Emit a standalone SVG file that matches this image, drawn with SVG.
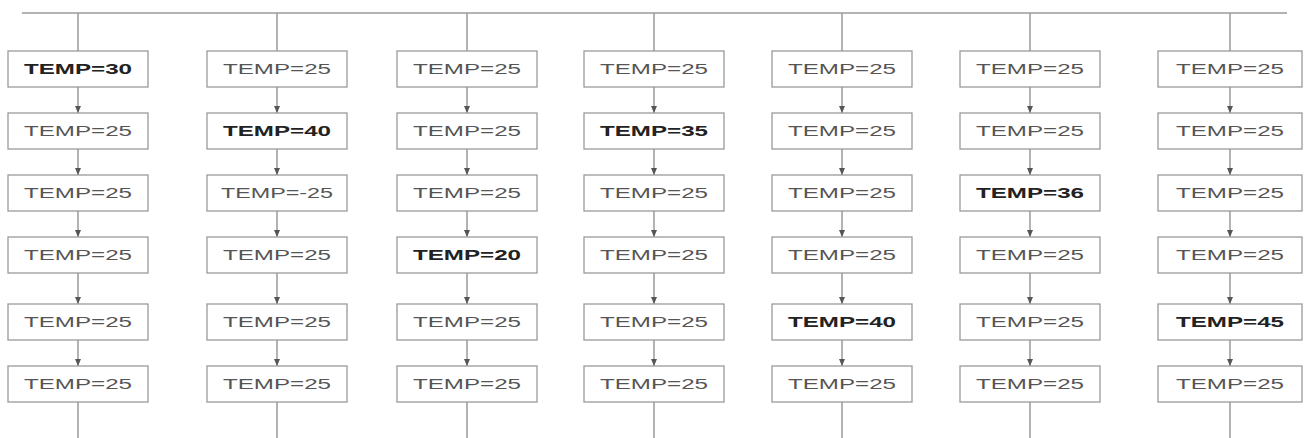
<svg xmlns="http://www.w3.org/2000/svg" width="1313" height="438" viewBox="0 0 1313 438">
<style>
.box{fill:#fff;stroke:#9a9a9a;stroke-width:1.3}
.t{font-family:"Liberation Sans",Arial,sans-serif;font-size:14px;fill:#555;text-anchor:middle}
.b{font-weight:bold;fill:#222}
.ln{stroke:#9a9a9a;stroke-width:1.5;fill:none}
</style>
<defs>
<marker id="ah" markerWidth="8" markerHeight="6" refX="7" refY="3" orient="auto" markerUnits="userSpaceOnUse">
<path d="M0,0 L7,3 L0,6 Z" fill="#555"/>
</marker>
</defs>
<g id="connectors">
<path class="ln" d="M22,13 H1287"/>
<path class="ln" d="M78,13 V51 M277,13 V51 M467,13 V51 M654,13 V51 M842,13 V51 M1030,13 V51 M1230,13 V51"/>
<path class="ln" d="M78,402 V438 M277,402 V438 M467,402 V438 M654,402 V438 M842,402 V438 M1030,402 V438 M1230,402 V438"/>
<g marker-end="url(#ah)" class="ln">
<path d="M78,87 V113"/><path d="M78,149 V175"/><path d="M78,211 V237"/><path d="M78,273 V304"/><path d="M78,340 V366"/>
<path d="M277,87 V113"/><path d="M277,149 V175"/><path d="M277,211 V237"/><path d="M277,273 V304"/><path d="M277,340 V366"/>
<path d="M467,87 V113"/><path d="M467,149 V175"/><path d="M467,211 V237"/><path d="M467,273 V304"/><path d="M467,340 V366"/>
<path d="M654,87 V113"/><path d="M654,149 V175"/><path d="M654,211 V237"/><path d="M654,273 V304"/><path d="M654,340 V366"/>
<path d="M842,87 V113"/><path d="M842,149 V175"/><path d="M842,211 V237"/><path d="M842,273 V304"/><path d="M842,340 V366"/>
<path d="M1030,87 V113"/><path d="M1030,149 V175"/><path d="M1030,211 V237"/><path d="M1030,273 V304"/><path d="M1030,340 V366"/>
<path d="M1230,87 V113"/><path d="M1230,149 V175"/><path d="M1230,211 V237"/><path d="M1230,273 V304"/><path d="M1230,340 V366"/>
</g>
</g>
<!-- column 1 -->
<g id="c1r1"><rect class="box" x="8" y="51" width="140" height="36"/><text class="t b" x="78" y="74" textLength="108" lengthAdjust="spacingAndGlyphs">TEMP=30</text></g>
<g id="c1r2"><rect class="box" x="8" y="113" width="140" height="36"/><text class="t" x="78" y="136" textLength="108" lengthAdjust="spacingAndGlyphs">TEMP=25</text></g>
<g id="c1r3"><rect class="box" x="8" y="175" width="140" height="36"/><text class="t" x="78" y="198" textLength="108" lengthAdjust="spacingAndGlyphs">TEMP=25</text></g>
<g id="c1r4"><rect class="box" x="8" y="237" width="140" height="36"/><text class="t" x="78" y="260" textLength="108" lengthAdjust="spacingAndGlyphs">TEMP=25</text></g>
<g id="c1r5"><rect class="box" x="8" y="304" width="140" height="36"/><text class="t" x="78" y="327" textLength="108" lengthAdjust="spacingAndGlyphs">TEMP=25</text></g>
<g id="c1r6"><rect class="box" x="8" y="366" width="140" height="36"/><text class="t" x="78" y="389" textLength="108" lengthAdjust="spacingAndGlyphs">TEMP=25</text></g>
<!-- column 2 -->
<g id="c2r1"><rect class="box" x="207" y="51" width="140" height="36"/><text class="t" x="277" y="74" textLength="108" lengthAdjust="spacingAndGlyphs">TEMP=25</text></g>
<g id="c2r2"><rect class="box" x="207" y="113" width="140" height="36"/><text class="t b" x="277" y="136" textLength="108" lengthAdjust="spacingAndGlyphs">TEMP=40</text></g>
<g id="c2r3"><rect class="box" x="207" y="175" width="140" height="36"/><text class="t" x="277" y="198" textLength="112" lengthAdjust="spacingAndGlyphs">TEMP=-25</text></g>
<g id="c2r4"><rect class="box" x="207" y="237" width="140" height="36"/><text class="t" x="277" y="260" textLength="108" lengthAdjust="spacingAndGlyphs">TEMP=25</text></g>
<g id="c2r5"><rect class="box" x="207" y="304" width="140" height="36"/><text class="t" x="277" y="327" textLength="108" lengthAdjust="spacingAndGlyphs">TEMP=25</text></g>
<g id="c2r6"><rect class="box" x="207" y="366" width="140" height="36"/><text class="t" x="277" y="389" textLength="108" lengthAdjust="spacingAndGlyphs">TEMP=25</text></g>
<!-- column 3 -->
<g id="c3r1"><rect class="box" x="397" y="51" width="140" height="36"/><text class="t" x="467" y="74" textLength="108" lengthAdjust="spacingAndGlyphs">TEMP=25</text></g>
<g id="c3r2"><rect class="box" x="397" y="113" width="140" height="36"/><text class="t" x="467" y="136" textLength="108" lengthAdjust="spacingAndGlyphs">TEMP=25</text></g>
<g id="c3r3"><rect class="box" x="397" y="175" width="140" height="36"/><text class="t" x="467" y="198" textLength="108" lengthAdjust="spacingAndGlyphs">TEMP=25</text></g>
<g id="c3r4"><rect class="box" x="397" y="237" width="140" height="36"/><text class="t b" x="467" y="260" textLength="108" lengthAdjust="spacingAndGlyphs">TEMP=20</text></g>
<g id="c3r5"><rect class="box" x="397" y="304" width="140" height="36"/><text class="t" x="467" y="327" textLength="108" lengthAdjust="spacingAndGlyphs">TEMP=25</text></g>
<g id="c3r6"><rect class="box" x="397" y="366" width="140" height="36"/><text class="t" x="467" y="389" textLength="108" lengthAdjust="spacingAndGlyphs">TEMP=25</text></g>
<!-- column 4 -->
<g id="c4r1"><rect class="box" x="584" y="51" width="140" height="36"/><text class="t" x="654" y="74" textLength="108" lengthAdjust="spacingAndGlyphs">TEMP=25</text></g>
<g id="c4r2"><rect class="box" x="584" y="113" width="140" height="36"/><text class="t b" x="654" y="136" textLength="108" lengthAdjust="spacingAndGlyphs">TEMP=35</text></g>
<g id="c4r3"><rect class="box" x="584" y="175" width="140" height="36"/><text class="t" x="654" y="198" textLength="108" lengthAdjust="spacingAndGlyphs">TEMP=25</text></g>
<g id="c4r4"><rect class="box" x="584" y="237" width="140" height="36"/><text class="t" x="654" y="260" textLength="108" lengthAdjust="spacingAndGlyphs">TEMP=25</text></g>
<g id="c4r5"><rect class="box" x="584" y="304" width="140" height="36"/><text class="t" x="654" y="327" textLength="108" lengthAdjust="spacingAndGlyphs">TEMP=25</text></g>
<g id="c4r6"><rect class="box" x="584" y="366" width="140" height="36"/><text class="t" x="654" y="389" textLength="108" lengthAdjust="spacingAndGlyphs">TEMP=25</text></g>
<!-- column 5 -->
<g id="c5r1"><rect class="box" x="772" y="51" width="140" height="36"/><text class="t" x="842" y="74" textLength="108" lengthAdjust="spacingAndGlyphs">TEMP=25</text></g>
<g id="c5r2"><rect class="box" x="772" y="113" width="140" height="36"/><text class="t" x="842" y="136" textLength="108" lengthAdjust="spacingAndGlyphs">TEMP=25</text></g>
<g id="c5r3"><rect class="box" x="772" y="175" width="140" height="36"/><text class="t" x="842" y="198" textLength="108" lengthAdjust="spacingAndGlyphs">TEMP=25</text></g>
<g id="c5r4"><rect class="box" x="772" y="237" width="140" height="36"/><text class="t" x="842" y="260" textLength="108" lengthAdjust="spacingAndGlyphs">TEMP=25</text></g>
<g id="c5r5"><rect class="box" x="772" y="304" width="140" height="36"/><text class="t b" x="842" y="327" textLength="108" lengthAdjust="spacingAndGlyphs">TEMP=40</text></g>
<g id="c5r6"><rect class="box" x="772" y="366" width="140" height="36"/><text class="t" x="842" y="389" textLength="108" lengthAdjust="spacingAndGlyphs">TEMP=25</text></g>
<!-- column 6 -->
<g id="c6r1"><rect class="box" x="960" y="51" width="140" height="36"/><text class="t" x="1030" y="74" textLength="108" lengthAdjust="spacingAndGlyphs">TEMP=25</text></g>
<g id="c6r2"><rect class="box" x="960" y="113" width="140" height="36"/><text class="t" x="1030" y="136" textLength="108" lengthAdjust="spacingAndGlyphs">TEMP=25</text></g>
<g id="c6r3"><rect class="box" x="960" y="175" width="140" height="36"/><text class="t b" x="1030" y="198" textLength="108" lengthAdjust="spacingAndGlyphs">TEMP=36</text></g>
<g id="c6r4"><rect class="box" x="960" y="237" width="140" height="36"/><text class="t" x="1030" y="260" textLength="108" lengthAdjust="spacingAndGlyphs">TEMP=25</text></g>
<g id="c6r5"><rect class="box" x="960" y="304" width="140" height="36"/><text class="t" x="1030" y="327" textLength="108" lengthAdjust="spacingAndGlyphs">TEMP=25</text></g>
<g id="c6r6"><rect class="box" x="960" y="366" width="140" height="36"/><text class="t" x="1030" y="389" textLength="108" lengthAdjust="spacingAndGlyphs">TEMP=25</text></g>
<!-- column 7 -->
<g id="c7r1"><rect class="box" x="1158" y="51" width="144" height="36"/><text class="t" x="1230" y="74" textLength="108" lengthAdjust="spacingAndGlyphs">TEMP=25</text></g>
<g id="c7r2"><rect class="box" x="1158" y="113" width="144" height="36"/><text class="t" x="1230" y="136" textLength="108" lengthAdjust="spacingAndGlyphs">TEMP=25</text></g>
<g id="c7r3"><rect class="box" x="1158" y="175" width="144" height="36"/><text class="t" x="1230" y="198" textLength="108" lengthAdjust="spacingAndGlyphs">TEMP=25</text></g>
<g id="c7r4"><rect class="box" x="1158" y="237" width="144" height="36"/><text class="t" x="1230" y="260" textLength="108" lengthAdjust="spacingAndGlyphs">TEMP=25</text></g>
<g id="c7r5"><rect class="box" x="1158" y="304" width="144" height="36"/><text class="t b" x="1230" y="327" textLength="108" lengthAdjust="spacingAndGlyphs">TEMP=45</text></g>
<g id="c7r6"><rect class="box" x="1158" y="366" width="144" height="36"/><text class="t" x="1230" y="389" textLength="108" lengthAdjust="spacingAndGlyphs">TEMP=25</text></g>
</svg>
